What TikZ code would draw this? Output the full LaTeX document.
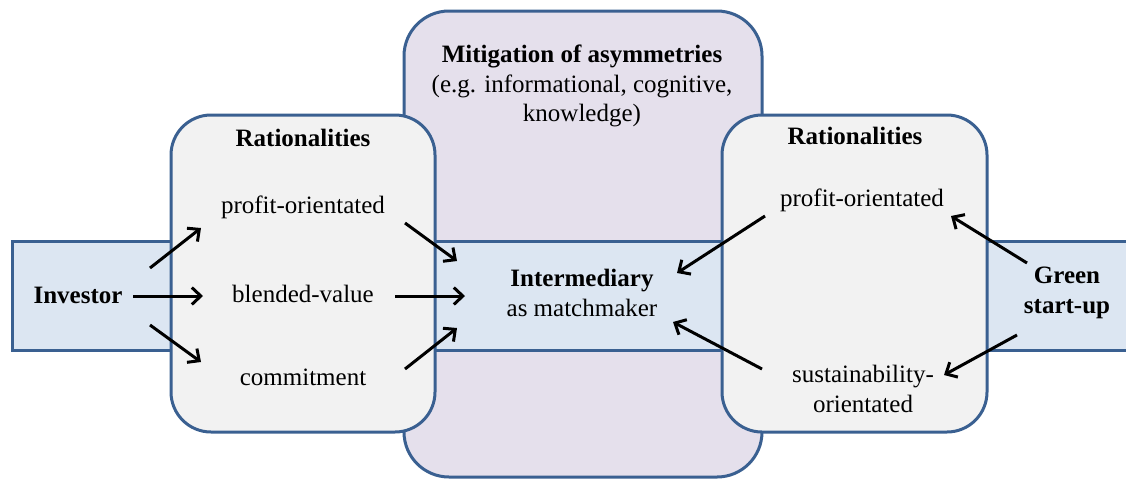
\documentclass[tikz,border=0pt]{standalone}
\usepackage{fontspec}
\setmainfont{Liberation Serif}
\usetikzlibrary{arrows.meta}
\definecolor{edgeblue}{HTML}{3A6091}
\definecolor{bandfill}{HTML}{DCE6F2}
\definecolor{midfill}{HTML}{E5E0EC}
\definecolor{panelfill}{HTML}{F2F2F2}
\begin{document}
\begin{tikzpicture}[x=1pt,y=-1pt,
  lbl/.style={font=\fontsize{25}{29.5}\selectfont, align=center, inner sep=0pt},
  ttl/.style={font=\fontsize{25}{29.5}\selectfont\bfseries, align=center, inner sep=0pt},
  arr/.style={line width=3pt, -{Straight Barb[length=9pt,width=17pt]}},
  box/.style={draw=edgeblue, line width=3pt}]
\useasboundingbox (0,0) rectangle (1126,480);
% central box
\draw[box, fill=midfill, rounded corners=45pt] (404,11) rectangle (762,477);
% band
\draw[box, fill=bandfill] (1140,241) -- (12,241) -- (12,350) -- (1140,350);
% side panels
\draw[box, fill=panelfill, rounded corners=40pt] (171,115) rectangle (435,432);
\draw[box, fill=panelfill, rounded corners=40pt] (722,115) rectangle (987,432);
% texts
\node[lbl] (mitig) at (582,86) {\textbf{Mitigation of asymmetries}\\(e.g. informational, cognitive,\\knowledge)};
\node[ttl] (ratL) at (303,138) {Rationalities};
\node[lbl] (profL) at (303,207) {profit-orientated};
\node[lbl] (blend) at (303,294) {blended-value};
\node[lbl] (commit) at (303,377) {commitment};
\node[ttl] (inv) at (78,295) {Investor};
\node[lbl] (mid) at (582,293) {\textbf{Intermediary}\\as matchmaker};
\node[ttl] (ratR) at (855,136) {Rationalities};
\node[lbl] (profR) at (862,200) {profit-orientated};
\node[lbl] (sust) at (863,389) {sustainability-\\orientated};
\node[ttl] (green) at (1067,293) {Green\\start-up};
% arrow ends
\coordinate (invA) at (150,268); \coordinate (profLin) at (201,228);
\coordinate (invB) at (133,296); \coordinate (blendin) at (203,296);
\coordinate (invC) at (150,325); \coordinate (commitin) at (201,362);
\coordinate (profLout) at (405,223); \coordinate (midA) at (457,261);
\coordinate (blendout) at (395,296); \coordinate (midB) at (465,296);
\coordinate (commitout) at (405,369); \coordinate (midC) at (457,328);
\coordinate (profRout) at (765,216); \coordinate (midD) at (677,273);
\coordinate (sustout) at (762,369); \coordinate (midE) at (673,322);
\coordinate (greenA) at (1027,263); \coordinate (profRin) at (951,216);
\coordinate (greenB) at (1017,335); \coordinate (sustin) at (944,375);
% arrows
\draw[arr] (invA) -- (profLin);
\draw[arr] (invB) -- (blendin);
\draw[arr] (invC) -- (commitin);
\draw[arr] (profLout) -- (midA);
\draw[arr] (blendout) -- (midB);
\draw[arr] (commitout) -- (midC);
\draw[arr] (profRout) -- (midD);
\draw[arr] (sustout) -- (midE);
\draw[arr] (greenA) -- (profRin);
\draw[arr] (greenB) -- (sustin);
\end{tikzpicture}
\end{document}
